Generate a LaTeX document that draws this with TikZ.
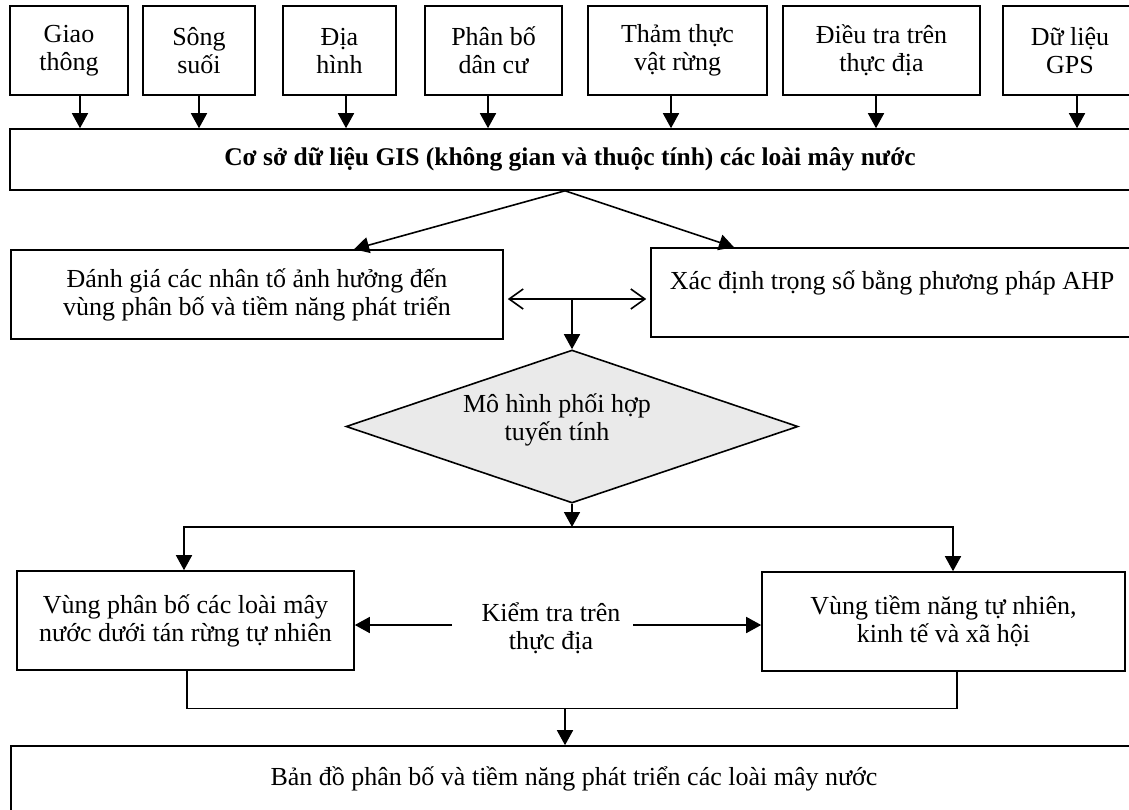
\documentclass[tikz,border=0pt]{standalone}
\usepackage{fontspec}
\setmainfont{Liberation Serif}
\usetikzlibrary{arrows.meta,shapes.geometric,calc}
\definecolor{diagray}{RGB}{234,234,234}
\begin{document}
\begin{tikzpicture}[x=1pt,y=-1pt,
  box/.style={draw, line width=1.6pt, inner sep=0pt, align=center, font=\fontsize{26}{28}\selectfont},
  txt/.style={inner sep=0pt, align=center, font=\fontsize{26}{28}\selectfont},
  conn/.style={line width=1.6pt},
  arr/.style={line width=1.6pt, -{Triangle[length=15pt,width=16pt]}},
  darr/.style={line width=1.6pt, {Straight Barb[length=14pt,width=20pt,line width=1.6pt]}-{Straight Barb[length=14pt,width=20pt,line width=1.6pt]}}]
\useasboundingbox (0,0) rectangle (1129,809);
% top row
\node[box, minimum width=118pt, minimum height=89pt] (giao) at (69,50.5) {Giao\\thông};
\node[box, minimum width=112pt, minimum height=89pt] (song) at (199,50.5) {Sông\\suối};
\node[box, minimum width=113pt, minimum height=89pt] (dia) at (339.5,50.5) {Địa\\hình};
\node[box, minimum width=137pt, minimum height=89pt] (danc) at (493.5,50.5) {Phân bố\\dân cư};
\node[box, minimum width=179pt, minimum height=89pt] (tham) at (677.5,50.5) {Thảm thực\\vật rừng};
\node[box, minimum width=197pt, minimum height=89pt] (dieu) at (881.5,50.5) {Điều tra trên\\thực địa};
\node[box, minimum width=134pt, minimum height=89pt] (gps) at (1070,50.5) {Dữ liệu\\GPS};
% GIS
\node[box, minimum width=1120pt, minimum height=61pt, font=\fontsize{25.5}{28}\selectfont] (gis) at (570,159.5) {\textbf{Cơ sở dữ liệu GIS (không gian và thuộc tính) các loài mây nước}};
\draw[arr] ([xshift=11pt]giao.south) -- ([xshift=11pt]giao.south |- gis.north);
\draw[arr] (song.south) -- (song.south |- gis.north);
\draw[arr] ([xshift=6.5pt]dia.south) -- ([xshift=6.5pt]dia.south |- gis.north);
\draw[arr] ([xshift=-5.5pt]danc.south) -- ([xshift=-5.5pt]danc.south |- gis.north);
\draw[arr] ([xshift=-6.5pt]tham.south) -- ([xshift=-6.5pt]tham.south |- gis.north);
\draw[arr] ([xshift=-5.5pt]dieu.south) -- ([xshift=-5.5pt]dieu.south |- gis.north);
\draw[arr] ([xshift=7pt]gps.south) -- ([xshift=7pt]gps.south |- gis.north);
% second row
\node[box, minimum width=492pt, minimum height=89pt] (dg) at (257,294.5) {Đánh giá các nhân tố ảnh hưởng đến\\vùng phân bố và tiềm năng phát triển};
\node[box, minimum width=482pt, minimum height=89pt, text depth=24pt] (xd) at (892,292.5) {Xác định trọng số bằng phương pháp AHP};
\coordinate (split) at ([xshift=-5pt]gis.south);
\draw[arr] (split) -- ([xshift=97pt]dg.north);
\draw[arr] (split) -- ([xshift=-158pt]xd.north);
\draw[darr, shorten <=4pt, shorten >=4pt] ([yshift=-4.5pt]dg.east) -- ([yshift=-6.5pt]xd.west);
% diamond
\node[draw, diamond, line width=1.6pt, fill=diagray, inner sep=0pt, minimum width=452pt, minimum height=153pt] (dia2) at (572,426.5) {};
\node[txt] (model) at (557,420) {Mô hình phối hợp\\tuyến tính};
\coordinate (mid) at (572,299);
\draw[arr] (mid) -- (dia2.north);
% third row
\node[box, minimum width=337pt, minimum height=99pt] (vl) at (185.5,620.5) {Vùng phân bố các loài mây\\nước dưới tán rừng tự nhiên};
\node[box, minimum width=363pt, minimum height=99pt] (vr) at (943.5,621.5) {Vùng tiềm năng tự nhiên,\\kinh tế và xã hội};
\node[txt] (kt) at (551,628) {Kiểm tra trên\\thực địa};
\coordinate (j1) at (572,527);
\draw[arr] (dia2.south) -- (j1);
\draw[arr] (j1) -| ([xshift=-1.5pt]vl.north);
\draw[arr] (j1) -| ([xshift=9.5pt]vr.north);
\coordinate (ktl) at (452,625);
\coordinate (ktr) at (633,625);
\draw[arr] (ktl) -- (ktl -| vl.east);
\draw[arr] (ktr) -- (ktr -| vr.west);
% bottom
\node[box, minimum width=1126pt, minimum height=65pt] (bd) at (574,778.5) {Bản đồ phân bố và tiềm năng phát triển các loài mây nước};
\coordinate (j2) at (565,708.5);
\draw[conn] ([xshift=1.5pt]vl.south) |- (j2) -| ([xshift=13.5pt]vr.south);
\draw[arr] (j2) -- (j2 |- bd.north);
\end{tikzpicture}
\end{document}
